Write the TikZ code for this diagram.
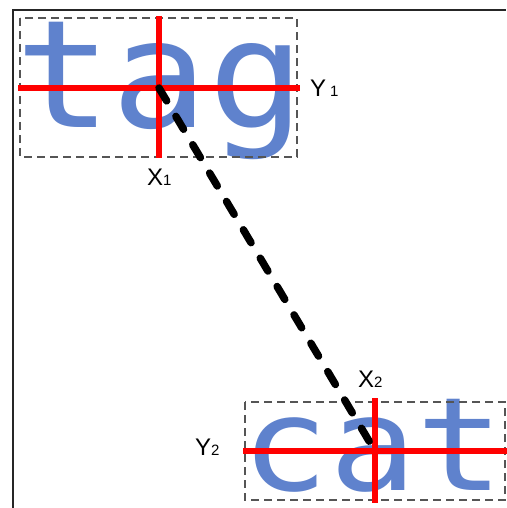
\documentclass[tikz,border=0pt]{standalone}
\usepackage{fontspec}
\setmainfont{Liberation Sans}
\newfontfamily\wordfont{DejaVu Sans Mono}
\definecolor{wordblue}{RGB}{95,130,205}
\definecolor{boxgray}{RGB}{85,85,85}
\begin{document}
\begin{tikzpicture}[x=1pt,y=-1pt,
  word/.style={inner sep=0pt,anchor=base,text=wordblue},
  bbox/.style={draw=boxgray,line width=1.8pt,dash pattern=on 8pt off 5pt},
  cross/.style={draw=red,line width=5.5pt},
  lbl/.style={inner sep=0pt,anchor=base west,text=black,font=\fontsize{24}{24}\selectfont},
  link/.style={draw=black,line width=7.5pt,line cap=round,dash pattern=on 15pt off 18pt}]
\useasboundingbox (0,0) rectangle (506,508);
\fill[white] (0,0) rectangle (506,508);
% frame
\draw[line width=2pt,black!85] (13,508) -- (13,10) -- (506,10);
% words
\node[word,xscale=1.07,font=\wordfont\fontsize{150}{150}\selectfont] (tag) at (160,128) {tag};
\node[word,xscale=1.12,font=\wordfont\fontsize{130}{130}\selectfont] (cat) at (373,490) {cat};
% bounding boxes
\draw[bbox] (20,18) rectangle (297,157);
\draw[bbox] (245,402) rectangle (505,500);
% centres
\coordinate (c1) at (159,88);
\coordinate (c2) at (375,451);
\coordinate (h1a) at (18,88);
\coordinate (h1b) at (300,88);
\coordinate (v1a) at (159,16);
\coordinate (v1b) at (159,158);
\coordinate (h2a) at (243,451);
\coordinate (h2b) at (507,451);
\coordinate (v2a) at (375,398);
\coordinate (v2b) at (375,503);
\draw[cross] (h1a) -- (h1b);
\draw[cross] (v1a) -- (v1b);
\draw[cross] (h2a) -- (h2b);
\draw[cross] (v2a) -- (v2b);
% link
\draw[link] (c1) -- (c2);
% labels
\node[lbl] (y1) at (310,97) {Y\,{\fontsize{15}{15}\selectfont 1}};
\node[lbl] (x1) at (147,185) {X{\fontsize{15}{15}\selectfont 1}};
\node[lbl] (y2) at (195,455) {Y{\fontsize{15}{15}\selectfont 2}};
\node[lbl] (x2) at (358,387) {X{\fontsize{15}{15}\selectfont 2}};
\end{tikzpicture}
\end{document}
